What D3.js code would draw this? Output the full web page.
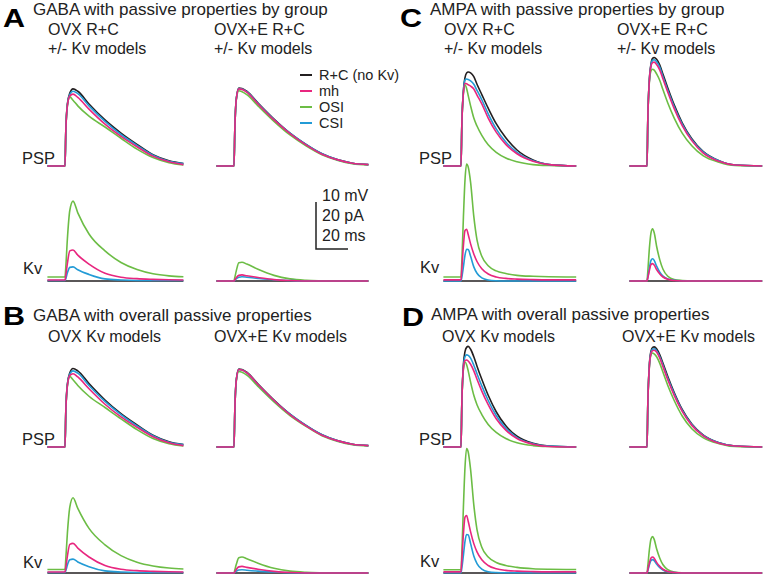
<!DOCTYPE html>
<html><head><meta charset="utf-8">
<script src="https://cdn.jsdelivr.net/npm/d3@7"></script>
<style>
html,body{margin:0;padding:0;background:#fff;}
text{font-family:"Liberation Sans",Arial,Helvetica,sans-serif;fill:#222;}
</style></head>
<body>
<svg id="fig" width="766" height="577"></svg>
<script>
// ---------- data ----------
const seriesNames = ["R+C (no Kv)", "mh", "OSI", "CSI"];
const seriesColors = ["#231f20", "#e8267f", "#6cbd45", "#239bd6"];

// time (ms, relative to synaptic onset)
const tGABA = [-11, 0, 0.5, 1.5, 3, 5, 8, 15, 25, 35, 45, 55, 65, 74, 84];
const tAMPA = [-11, 0, 0.5, 1.5, 2.5, 3.5, 4.5, 6, 8, 10, 13, 17, 22, 28, 35, 45, 55, 72];

// PSP in mV, Kv in pA; order: R+C, mh, OSI, CSI
const A_OVX_PSP = [
  [0,0,7.4,13.2,15.5,16.4,15.9,13.2,9.8,7.0,4.6,2.4,1.1,0.5],
  [0,0,7.4,12.9,14.9,15.3,14.6,12.1,8.9,6.3,4.1,2.1,0.9,0.3],
  [0,0,7.4,12.8,14.7,14.0,12.8,10.6,8.3,5.9,3.6,1.8,0.7,0.2],
  [0,0,7.4,13.0,15.2,15.9,15.4,12.8,9.5,6.7,4.4,2.3,1.0,0.5]];
const A_OVXE_PSP = [
  [0,0,7.6,14.5,16.6,16.5,15.9,13.4,10.0,7.0,4.6,2.6,1.3,0.6,0.3],
  [0,0,7.6,14.4,16.4,16.3,15.7,13.2,9.8,6.9,4.5,2.5,1.3,0.6,0.3],
  [0,0,7.5,14.2,16.0,15.8,15.2,12.8,9.5,6.6,4.3,2.4,1.2,0.5,0.2],
  [0,0,7.6,14.4,16.5,16.4,15.8,13.3,9.9,7.0,4.6,2.6,1.3,0.6,0.3]];
const A_OVX_KV = [
  [0,0,0,0,0,0,0,0,0,0,0,0,0,0],
  [0.4,0.4,2.5,7.5,12.8,13.2,11,7.2,3.3,1.6,1.0,0.7,0.5,0.4],
  [1.7,1.7,6,18,30,34,29,20,12.8,7.9,4.9,3.1,2.2,1.8],
  [0.2,0.2,1,3.5,5.8,6.0,4.8,2.8,0.9,0.4,0.2,0.2,0.2,0.2]];
const A_OVXE_KV = [
  [0,0,0,0,0,0,0,0,0,0,0,0,0,0,0],
  [0,0,0.5,1.5,2.4,2.6,2.2,1.5,0.6,0.2,0,0,0,0,0],
  [0,0,1.5,4.5,7.8,8.0,7.2,5.0,2.4,0.9,0.3,0.1,0,0,0],
  [0,0,0.3,1,1.6,1.8,1.6,1.1,0.5,0.2,0,0,0,0,0]];

const B_OVX_PSP = [
  [0,0,7.5,13.4,15.8,16.7,16.2,13.5,10.0,7.1,4.7,2.5,1.1,0.5],
  [0,0,7.5,13.1,15.2,15.6,14.9,12.4,9.1,6.4,4.2,2.2,0.9,0.3],
  [0,0,7.5,13.0,15.0,14.3,13.1,10.8,8.4,6.0,3.7,1.8,0.7,0.2],
  [0,0,7.5,13.2,15.5,16.2,15.7,13.1,9.7,6.9,4.5,2.4,1.0,0.5]];
const B_OVXE_PSP = [
  [0,0,7.6,14.5,16.6,16.5,15.9,13.4,10.0,7.0,4.6,2.6,1.3,0.6,0.3],
  [0,0,7.6,14.4,16.5,16.4,15.8,13.3,9.9,6.9,4.5,2.5,1.3,0.6,0.3],
  [0,0,7.5,14.2,16.1,15.9,15.3,12.9,9.6,6.7,4.4,2.4,1.2,0.5,0.2],
  [0,0,7.6,14.4,16.5,16.4,15.8,13.3,9.9,7.0,4.6,2.6,1.3,0.6,0.3]];
const B_OVX_KV = [
  [0,0,0,0,0,0,0,0,0,0,0,0,0,0],
  [0.4,0.4,2.4,7.2,12.2,12.6,10.6,6.8,3.2,1.6,1.0,0.7,0.5,0.4],
  [1.5,1.5,6,17,28,32,27.5,19,12,7.4,4.6,3,2.1,1.7],
  [0.2,0.2,1,3.4,5.6,5.9,4.7,2.7,0.9,0.4,0.2,0.2,0.2,0.2]];
const B_OVXE_KV = [
  [0,0,0,0,0,0,0,0,0,0,0,0,0,0,0],
  [0,0,0.5,1.6,2.6,2.8,2.4,1.6,0.7,0.2,0,0,0,0,0],
  [0,0,1.3,3.8,6.5,6.8,6.1,4.2,2.0,0.8,0.3,0.1,0,0,0],
  [0,0,0.3,0.8,1.3,1.4,1.2,0.8,0.4,0.1,0,0,0,0,0]];

const C_OVX_PSP = [
  [0,0,8.5,16,18.8,19.8,20.0,19.8,19.0,17.4,15.2,12.3,9.0,6.0,3.4,1.3,0.3,0],
  [0,0,8.5,15.5,17.6,17.5,17.3,17.0,16.4,15.1,13.2,10.2,7.2,4.6,2.6,1.0,0.3,0],
  [0,0,8.5,15.5,17.3,16.5,15.0,12.8,10.2,8.5,6.5,4.5,2.9,1.7,0.9,0.3,0.1,0],
  [0,0,8.5,15.8,18.3,18.5,18.4,18.1,17.4,16.1,14.1,11.1,7.9,5.1,2.9,1.1,0.3,0]];
const C_OVXE_PSP = [
  [0,0,9.8,18.5,21.7,22.9,23.1,22.7,21.5,19.5,16.6,13.0,9.2,5.8,3.1,1.1,0.2,0],
  [0,0,9.8,18.3,21.3,22.0,22.1,21.6,20.4,18.5,15.7,12.2,8.6,5.4,2.8,1.0,0.2,0],
  [0,0,9.8,18.0,20.2,20.6,20.4,19.6,18.2,16.2,13.4,10.2,7.0,4.3,2.2,0.8,0.1,0],
  [0,0,9.8,18.4,21.5,22.5,22.6,22.2,21.0,19.0,16.1,12.6,8.9,5.6,3.0,1.1,0.2,0]];
const C_OVX_KV = [
  [0,0,0,0,0,0,0,0,0,0,0,0,0,0,0,0,0,0],
  [0.5,0.5,5,15,21.5,22,19.8,15.8,11.5,8.3,5.2,3.0,1.7,1.1,0.8,0.6,0.5,0.5],
  [1.7,1.7,8,27,43,49.8,48.5,42,27.5,17.5,10.5,6.5,4.3,3.2,2.4,2.0,1.8,1.7],
  [0,0,1.5,6,11,13.5,13.4,10.5,6,3.3,1.3,0.4,0.1,0,0,0,0,0]];
const C_OVXE_KV = [
  [0,0,0,0,0,0,0,0,0,0,0,0,0,0,0,0,0,0],
  [0,0,1.3,4.5,7,7.4,6.8,4.9,3.0,1.7,0.7,0.2,0,0,0,0,0,0],
  [0,0,4,14,20.5,22.2,20.5,14.8,9,5,2,0.6,0.2,0,0,0,0,0],
  [0,0,1.5,5.5,8.8,9.5,8.8,6.3,3.8,2.1,0.9,0.3,0.1,0,0,0,0,0]];

const D_OVX_PSP = [
  [0,0,9,17.5,20.3,21.2,21.4,20.8,19.2,17.2,14.4,11.0,7.5,4.5,2.3,0.8,0.2,0],
  [0,0,9,16.8,18.4,18.5,18.3,17.6,16.2,14.4,11.9,9.0,6.0,3.6,1.8,0.6,0.1,0],
  [0,0,9,16.5,18.1,17.5,16.2,13.8,11.0,9.0,6.9,4.8,3.1,1.8,0.9,0.3,0.1,0],
  [0,0,9,17,19.2,19.6,19.5,18.9,17.4,15.6,13.0,9.9,6.7,4.0,2.0,0.7,0.2,0]];
const D_OVXE_PSP = [
  [0,0,9,17.6,20.4,21.2,21.3,20.9,19.6,17.8,15.0,11.6,8.0,4.9,2.6,0.9,0.2,0],
  [0,0,9,17.3,19.9,20.5,20.6,20.2,18.9,17.1,14.3,11.0,7.6,4.6,2.4,0.8,0.2,0],
  [0,0,9,17.2,19.6,20.0,19.8,19.2,17.8,15.9,13.1,9.9,6.6,3.9,2.0,0.7,0.1,0],
  [0,0,9,17.4,20.1,20.8,20.9,20.5,19.2,17.4,14.6,11.3,7.8,4.8,2.5,0.9,0.2,0]];
const D_OVX_KV = [
  [0,0,0,0,0,0,0,0,0,0,0,0,0,0,0,0,0,0],
  [0.5,0.5,5.5,16.5,23.8,24.5,22,17.5,12.5,9,5.6,3.2,1.8,1.1,0.8,0.6,0.5,0.5],
  [1.4,1.4,8,28,45,53,51.5,44,29,18.5,11,6.8,4.5,3.2,2.4,1.8,1.6,1.5],
  [0.1,0.1,2,7.5,13.5,16.4,16.2,12.5,7.2,4,1.6,0.5,0.2,0.1,0.1,0.1,0.1,0.1]];
const D_OVXE_KV = [
  [0,0,0,0,0,0,0,0,0,0,0,0,0,0,0,0,0,0],
  [0,0,1.3,4.3,6.4,6.8,6.3,4.5,2.8,1.6,0.6,0.2,0,0,0,0,0,0],
  [0,0,3,10,14.5,15.5,14.3,10.3,6.3,3.5,1.4,0.4,0.1,0,0,0,0,0],
  [0,0,1,3.5,5.3,5.7,5.3,3.8,2.3,1.3,0.5,0.2,0,0,0,0,0,0]];

const panelLetters = ["A", "B", "C", "D"];
const panelTitles = ["GABA with passive properties by group", "GABA with overall passive properties",
                     "AMPA with passive properties by group", "AMPA with overall passive properties"];
const colTitlesByGroup = [["OVX R+C", "+/- Kv models"], ["OVX+E R+C", "+/- Kv models"]];
const colTitlesOverall = [["OVX Kv models"], ["OVX+E Kv models"]];
const scaleBarLabels = ["10 mV", "20 pA", "20 ms"];
const scaleBarValues = { mV: 10, pA: 20, ms: 20 };

// ---------- layout ----------
const svg = d3.select("#fig");
const PX_PER_MS = 1.6, PX_PER_MV = 4.7, PX_PER_PA = 2.35;
const drawOrder = [0, 2, 3, 1];

const panels = [
  {letter:0, lx:3,   ly:27,  tx:33,  ty:15,  sub:colTitlesByGroup, subX:[48,214], subY:35, pspBase:166, kvBase:281, labX:22,
   pspLabY:164, kvLabY:274, t:tGABA, onX:[65,234], psp:[A_OVX_PSP,A_OVXE_PSP], kv:[A_OVX_KV,A_OVXE_KV]},
  {letter:1, lx:3,   ly:325, tx:33,  ty:321, sub:colTitlesOverall, subX:[48,214], subY:342, pspBase:447, kvBase:573, labX:22,
   pspLabY:445, kvLabY:568, t:tGABA, onX:[65,234], psp:[B_OVX_PSP,B_OVXE_PSP], kv:[B_OVX_KV,B_OVXE_KV]},
  {letter:2, lx:400, ly:27,  tx:430, ty:15,  sub:colTitlesByGroup, subX:[444,617], subY:35, pspBase:166, kvBase:281, labX:419,
   pspLabY:164, kvLabY:273, t:tAMPA, onX:[461,647], psp:[C_OVX_PSP,C_OVXE_PSP], kv:[C_OVX_KV,C_OVXE_KV]},
  {letter:3, lx:402, ly:326, tx:431, ty:320, sub:colTitlesOverall, subX:[442,622], subY:342, pspBase:447, kvBase:573, labX:419,
   pspLabY:445, kvLabY:567, t:tAMPA, onX:[461,647], psp:[D_OVX_PSP,D_OVXE_PSP], kv:[D_OVX_KV,D_OVXE_KV]}
];

panels.forEach((p, pi) => {
  const g = svg.append("g");
  g.append("text").attr("x", p.lx).attr("y", p.ly)
    .attr("transform", `translate(${p.lx},0) scale(1.22,1) translate(${-p.lx},0)`)
    .style("font-size", "25px").style("font-weight", "bold").style("fill", "#000")
    .text(panelLetters[p.letter]);
  g.append("text").attr("x", p.tx).attr("y", p.ty).style("font-size", "17px")
    .text(panelTitles[p.letter]);
  p.sub.forEach((lines, ci) => {
    lines.forEach((s, li) => {
      g.append("text").attr("x", p.subX[ci]).attr("y", p.subY + li * 18.5)
        .style("font-size", "16px").text(s);
    });
  });
  g.append("text").attr("x", p.labX).attr("y", p.pspLabY).style("font-size", "16.5px").text("PSP");
  g.append("text").attr("x", p.labX + 1).attr("y", p.kvLabY).style("font-size", "16.5px").text("Kv");

  [0, 1].forEach(ci => {
    const on = p.onX[ci];
    const x = d3.scaleLinear().domain([0, 20]).range([on, on + 20 * PX_PER_MS]);
    const yP = d3.scaleLinear().domain([0, 10]).range([p.pspBase, p.pspBase - 10 * PX_PER_MV]);
    const yK = d3.scaleLinear().domain([0, 20]).range([p.kvBase, p.kvBase - 20 * PX_PER_PA]);
    [[p.psp[ci], yP], [p.kv[ci], yK]].forEach(([set, y]) => {
      const line = d3.line().x(d => x(d[0])).y(d => y(d[1])).curve(d3.curveMonotoneX);
      drawOrder.forEach(si => {
        const vals = set[si];
        const pts = vals.map((v, i) => [p.t[i], v]);
        g.append("path").attr("d", line(pts)).attr("fill", "none")
          .attr("stroke", seriesColors[si]).attr("stroke-width", 1.6)
          .attr("stroke-linejoin", "round");
      });
    });
  });
});

// legend
const leg = svg.append("g");
seriesNames.forEach((n, i) => {
  const yy = 75 + i * 16;
  leg.append("line").attr("x1", 300).attr("x2", 312).attr("y1", yy).attr("y2", yy)
    .attr("stroke", seriesColors[i]).attr("stroke-width", 2);
  leg.append("text").attr("x", 319).attr("y", yy + 5).style("font-size", "14.5px").text(n);
});

// scale bar (drawn through the same scales)
const sbX = d3.scaleLinear().domain([0, 20]).range([316, 316 + 20 * PX_PER_MS]);
const sbY = d3.scaleLinear().domain([0, 10]).range([249, 249 - 10 * PX_PER_MV]);
const sb = svg.append("g");
sb.append("path")
  .attr("d", `M${sbX(0)},${sbY(scaleBarValues.mV)}V${sbY(0)}H${sbX(scaleBarValues.ms)}`)
  .attr("fill", "none").attr("stroke", "#222").attr("stroke-width", 1.5);
scaleBarLabels.forEach((s, i) => {
  sb.append("text").attr("x", 322).attr("y", 201 + i * 20).style("font-size", "16px").text(s);
});
</script>
</body></html>
